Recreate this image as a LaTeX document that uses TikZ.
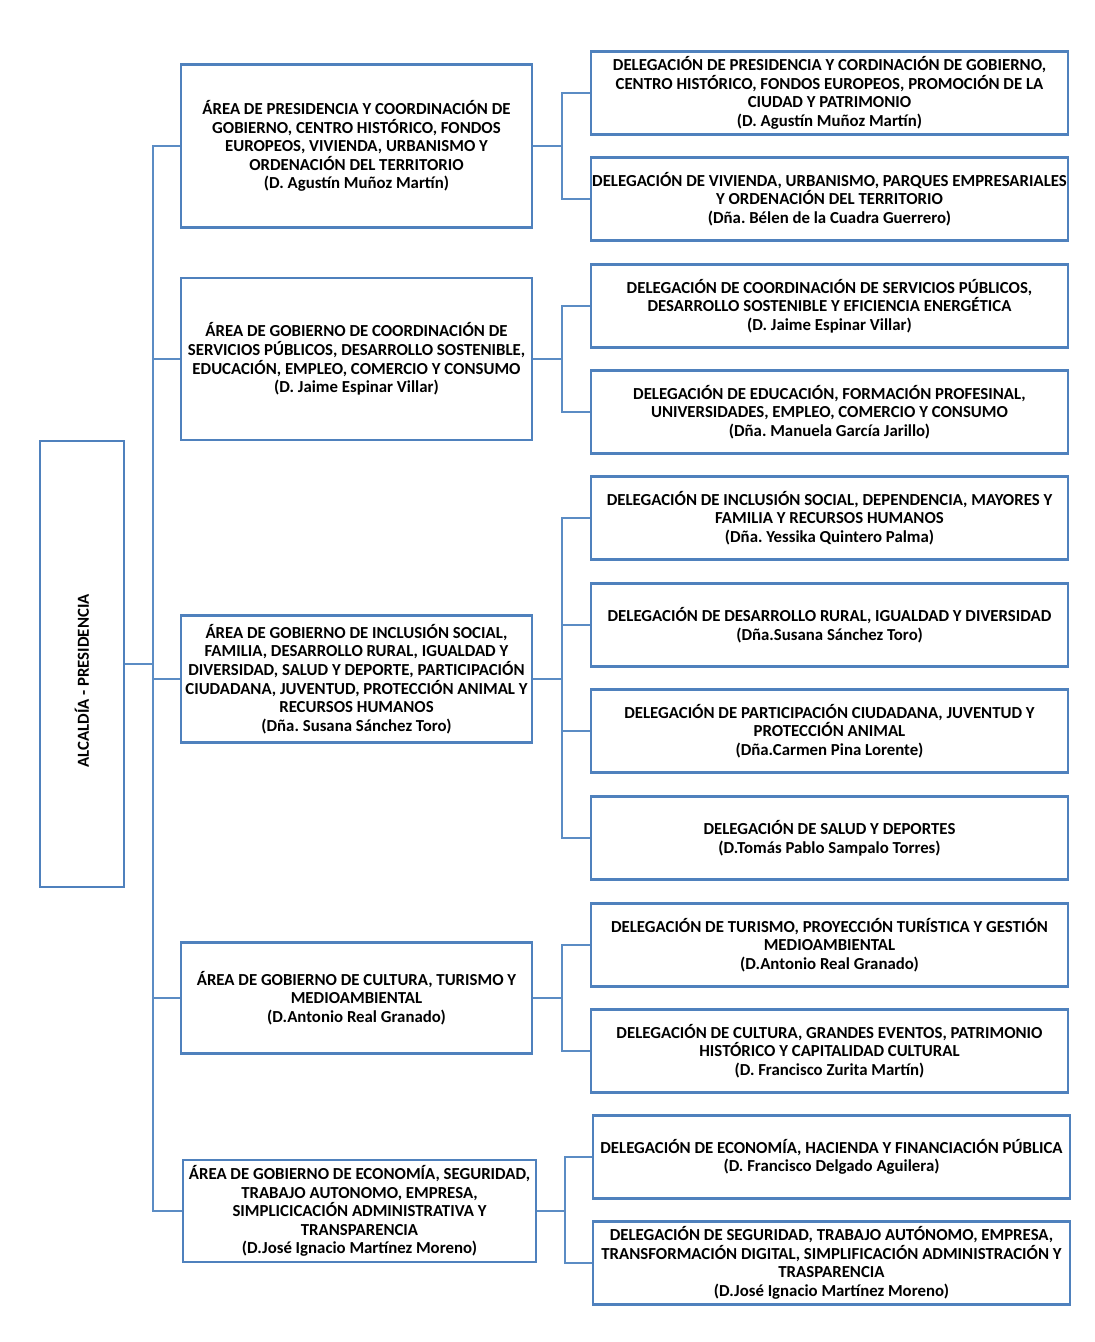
\documentclass[tikz,border=0pt]{standalone}
\usepackage{fontspec}
\setmainfont{Carlito}
\frenchspacing
\definecolor{boxblue}{HTML}{4F81BD}
\definecolor{lineblue}{HTML}{5B8CC4}
\begin{document}
\begin{tikzpicture}[x=1pt,y=-1pt,
  box/.style={draw=boxblue, line width=2.6pt, align=center, inner sep=0pt,
    font=\bfseries\fontsize{16.8}{18.6}\selectfont},
  area/.style={box, minimum width=351, },
  deleg/.style={box, minimum width=477, minimum height=83},
  link/.style={draw=lineblue, line width=1.8pt}]
\useasboundingbox (0,0) rectangle (1095,1342);
% Alcaldia
\node[box, minimum width=84, minimum height=446] (alc) at (82,664) {};
\node[rotate=90, font=\bfseries\fontsize{16.8}{18.6}\selectfont] (alct) at (82,681) {ALCALDÍA - PRESIDENCIA};
% Areas
\node[area, minimum height=163] (a1) at (356.5,146) {ÁREA DE PRESIDENCIA Y COORDINACIÓN DE\\GOBIERNO, CENTRO HISTÓRICO, FONDOS\\EUROPEOS, VIVIENDA, URBANISMO Y\\ORDENACIÓN DEL TERRITORIO\\(D. Agustín Muñoz Martín)};
\node[area, minimum height=162] (a2) at (356.5,359) {ÁREA DE GOBIERNO DE COORDINACIÓN DE\\SERVICIOS PÚBLICOS, DESARROLLO SOSTENIBLE,\\EDUCACIÓN, EMPLEO, COMERCIO Y CONSUMO\\(D. Jaime Espinar Villar)};
\node[area, minimum height=127] (a3) at (356.5,679) {ÁREA DE GOBIERNO DE INCLUSIÓN SOCIAL,\\FAMILIA, DESARROLLO RURAL, IGUALDAD Y\\DIVERSIDAD, SALUD Y DEPORTE, PARTICIPACIÓN\\CIUDADANA, JUVENTUD, PROTECCIÓN ANIMAL Y\\RECURSOS HUMANOS\\(Dña. Susana Sánchez Toro)};
\node[area, minimum height=111] (a4) at (356.5,998) {ÁREA DE GOBIERNO DE CULTURA, TURISMO Y\\MEDIOAMBIENTAL\\(D.Antonio Real Granado)};
\node[area, minimum width=353, minimum height=102] (a5) at (359.5,1211) {ÁREA DE GOBIERNO DE ECONOMÍA, SEGURIDAD,\\TRABAJO AUTONOMO, EMPRESA,\\SIMPLICICACIÓN ADMINISTRATIVA Y\\TRANSPARENCIA\\(D.José Ignacio Martínez Moreno)};
% Delegations
\node[deleg] (d1) at (829.5,93) {DELEGACIÓN DE PRESIDENCIA Y CORDINACIÓN DE GOBIERNO,\\CENTRO HISTÓRICO, FONDOS EUROPEOS, PROMOCIÓN DE LA\\CIUDAD Y PATRIMONIO\\(D. Agustín Muñoz Martín)};
\node[deleg] (d2) at (829.5,199) {DELEGACIÓN DE VIVIENDA, URBANISMO, PARQUES EMPRESARIALES\\Y ORDENACIÓN DEL TERRITORIO\\(Dña. Bélen de la Cuadra Guerrero)};
\node[deleg] (d3) at (829.5,306) {DELEGACIÓN DE COORDINACIÓN DE SERVICIOS PÚBLICOS,\\DESARROLLO SOSTENIBLE Y EFICIENCIA ENERGÉTICA\\(D. Jaime Espinar Villar)};
\node[deleg] (d4) at (829.5,412) {DELEGACIÓN DE EDUCACIÓN, FORMACIÓN PROFESINAL,\\UNIVERSIDADES, EMPLEO, COMERCIO Y CONSUMO\\(Dña. Manuela García Jarillo)};
\node[deleg] (d5) at (829.5,518) {DELEGACIÓN DE INCLUSIÓN SOCIAL, DEPENDENCIA, MAYORES Y\\FAMILIA Y RECURSOS HUMANOS\\(Dña. Yessika Quintero Palma)};
\node[deleg] (d6) at (829.5,625) {DELEGACIÓN DE DESARROLLO RURAL, IGUALDAD Y DIVERSIDAD\\(Dña.Susana Sánchez Toro)};
\node[deleg] (d7) at (829.5,731) {DELEGACIÓN DE PARTICIPACIÓN CIUDADANA, JUVENTUD Y\\PROTECCIÓN ANIMAL\\(Dña.Carmen Pina Lorente)};
\node[deleg] (d8) at (829.5,838) {DELEGACIÓN DE SALUD Y DEPORTES\\(D.Tomás Pablo Sampalo Torres)};
\node[deleg] (d9) at (829.5,945) {DELEGACIÓN DE TURISMO, PROYECCIÓN TURÍSTICA Y GESTIÓN\\MEDIOAMBIENTAL\\(D.Antonio Real Granado)};
\node[deleg] (d10) at (829.5,1051) {DELEGACIÓN DE CULTURA, GRANDES EVENTOS, PATRIMONIO\\HISTÓRICO Y CAPITALIDAD CULTURAL\\(D. Francisco Zurita Martín)};
\node[deleg] (d11) at (831.5,1157) {DELEGACIÓN DE ECONOMÍA, HACIENDA Y FINANCIACIÓN PÚBLICA\\(D. Francisco Delgado Aguilera)};
\node[deleg] (d12) at (831.5,1263) {DELEGACIÓN DE SEGURIDAD, TRABAJO AUTÓNOMO, EMPRESA,\\TRANSFORMACIÓN DIGITAL, SIMPLIFICACIÓN ADMINISTRACIÓN Y\\TRASPARENCIA\\(D.José Ignacio Martínez Moreno)};
% Trunk
\foreach \a in {a1,a2,a3,a4,a5}
  \draw[link] (alc.east) -- ++(28,0) |- (\a.west);
% Sub-buses
\foreach \d in {d1,d2} \draw[link] (a1.east) -- ++(29,0) |- (\d.west);
\foreach \d in {d3,d4} \draw[link] (a2.east) -- ++(29,0) |- (\d.west);
\foreach \d in {d5,d6,d7,d8} \draw[link] (a3.east) -- ++(29,0) |- (\d.west);
\foreach \d in {d9,d10} \draw[link] (a4.east) -- ++(29,0) |- (\d.west);
\foreach \d in {d11,d12} \draw[link] (a5.east) -- ++(28,0) |- (\d.west);
\end{tikzpicture}
\end{document}
